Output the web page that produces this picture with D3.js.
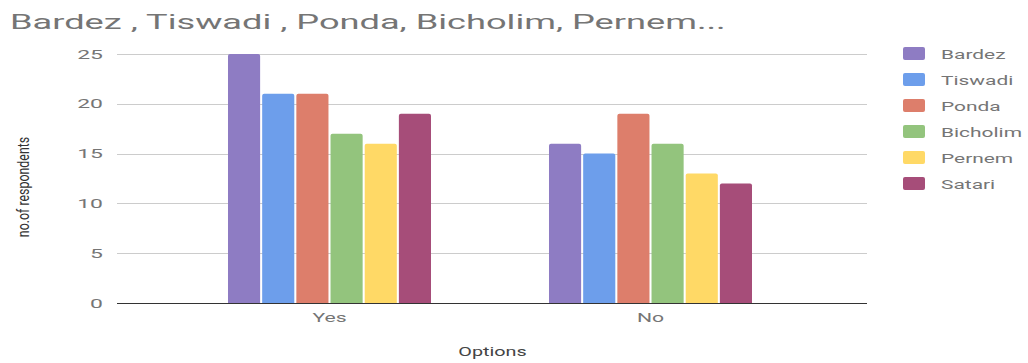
<!DOCTYPE html>
<html>
<head>
<meta charset="utf-8">
<script src="https://cdn.jsdelivr.net/npm/d3@7/dist/d3.min.js"></script>
<style>
  html, body { margin: 0; padding: 0; background: #fff; }
  svg { display: block; font-family: Roboto, "Noto Sans", sans-serif; }
</style>
</head>
<body>
<svg id="chart" width="1028" height="363"></svg>
<script>
const categories = ["Yes", "No"];
const seriesNames = ["Bardez", "Tiswadi", "Ponda", "Bicholim", "Pernem", "Satari"];
const seriesColors = ["#8e7cc3", "#6d9eeb", "#dd7e6b", "#93c47d", "#ffd966", "#a64d79"];
const bardez = [25, 16];
const tiswadi = [21, 15];
const ponda = [21, 19];
const bicholim = [17, 16];
const pernem = [16, 13];
const satari = [19, 12];
const yTicks = [0, 5, 10, 15, 20, 25];
const titleText = "Bardez , Tiswadi , Ponda, Bicholim, Pernem...";
const xTitle = "Options";
const yTitle = "no.of respondents";

const seriesValues = [bardez, tiswadi, ponda, bicholim, pernem, satari];
const rows = categories.map((c, i) => ({
  category: c,
  values: seriesNames.map((s, j) => ({ series: s, value: seriesValues[j][i] }))
}));

const svg = d3.select("#chart");
const plot = { left: 117, right: 867, top: 54, bottom: 303 };

// draw a horizontally-widened text label anchored at (x, y)
function label(parent, x, y, txt, opts = {}) {
  return parent.append("text")
    .attr("transform", `translate(${x},${y}) scale(${opts.sx || 1.5},1)`)
    .attr("fill", opts.fill || "#757575")
    .attr("font-size", opts.size || 13.5)
    .attr("text-anchor", opts.anchor || "start")
    .text(txt);
}

const y = d3.scaleLinear().domain([0, 25]).range([plot.bottom, plot.top]);
const x0 = d3.scaleBand().domain(categories).range([169, 811])
  .paddingInner(0.3676).paddingOuter(0.1838);
const x1 = d3.scaleBand().domain(seriesNames).range([0, x0.bandwidth()])
  .paddingInner(0.06).paddingOuter(0);
const color = d3.scaleOrdinal().domain(seriesNames).range(seriesColors);

// gridlines
svg.append("g").selectAll("line").data(yTicks.filter(d => d !== 0)).join("line")
  .attr("x1", plot.left).attr("x2", plot.right)
  .attr("y1", d => Math.round(y(d)) + 0.5).attr("y2", d => Math.round(y(d)) + 0.5)
  .attr("stroke", "#cccccc").attr("stroke-width", 1);

// y tick labels
const yLab = svg.append("g");
yTicks.forEach(t => label(yLab, 103, y(t) + 4.5, String(t), { anchor: "end", sx: 1.7 }));

// bars
const groups = svg.append("g").selectAll("g").data(rows).join("g")
  .attr("transform", d => `translate(${x0(d.category)},0)`);
groups.selectAll("path").data(d => d.values).join("path")
  .attr("fill", d => color(d.series))
  .attr("d", d => {
    const bx = x1(d.series), bw = x1.bandwidth();
    const top = y(d.value), bot = y(0), r = 2;
    return `M${bx},${bot}V${top + r}Q${bx},${top} ${bx + r},${top}H${bx + bw - r}Q${bx + bw},${top} ${bx + bw},${top + r}V${bot}Z`;
  });

// baseline
svg.append("line")
  .attr("x1", plot.left).attr("x2", plot.right)
  .attr("y1", plot.bottom + 0.5).attr("y2", plot.bottom + 0.5)
  .attr("stroke", "#333333").attr("stroke-width", 1.2);

// category labels
const xLab = svg.append("g");
categories.forEach(c => label(xLab, x0(c) + x0.bandwidth() / 2, 322, c, { anchor: "middle", sx: 1.57 }));

// axis titles
label(svg, (plot.left + plot.right) / 2 + 0.5, 356, xTitle, { anchor: "middle", size: 13.2, sx: 1.5, fill: "#444444" });
svg.append("text")
  .attr("transform", "translate(29,187) rotate(-90) scale(1,1.35)")
  .attr("text-anchor", "middle")
  .attr("font-size", 12.4).attr("fill", "#333333")
  .text(yTitle);

// title
label(svg, 10, 28.5, titleText, { size: 20, sx: 1.81, fill: "#757575" });

// legend
const legend = svg.append("g");
seriesNames.forEach((s, i) => {
  const ly = 47 + i * 26;
  legend.append("rect").attr("x", 903).attr("y", ly).attr("width", 22).attr("height", 13)
    .attr("rx", 2).attr("fill", color(s));
  label(legend, 941, ly + 11.5, s, { sx: 1.55 });
});
</script>
</body>
</html>
